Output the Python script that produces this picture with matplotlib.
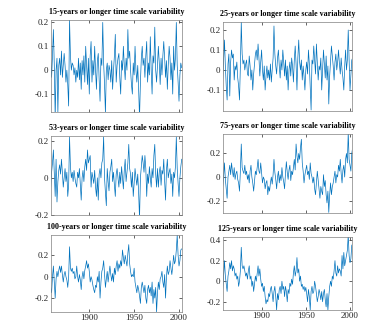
import matplotlib
matplotlib.use("Agg")
import matplotlib.pyplot as plt

plt.rcParams['font.family'] = ['Liberation Serif', 'DejaVu Serif']
plt.rcParams['axes.unicode_minus'] = False

years = list(range(1856, 2004))

titles = ["15-years or longer time scale variability",
          "25-years or longer time scale variability",
          "53-years or longer time scale variability",
          "75-years or longer time scale variability",
          "100-years or longer time scale variability",
          "125-years or longer time scale variability"]

s15 = [0.02, 0.05, -0.03, 0.06,
       0.17, 0.02, -0.20, 0.00, 0.05, -0.18, 0.02, 0.05, -0.02, 0.08,
       -0.03, 0.02, 0.07, 0.02, -0.05, 0.00, -0.06, -0.15, 0.21, 0.06,
       0.00, 0.03, 0.02, -0.02, 0.01, -0.05, 0.00, -0.03, 0.05, -0.04,
       0.03, -0.08, 0.04, -0.02, 0.06, -0.05, 0.10, 0.02, -0.06, 0.05,
       -0.10, 0.06, 0.12, -0.05, 0.04, -0.02, 0.10, 0.00, -0.08, 0.04,
       0.07, -0.04, -0.13, 0.05, 0.02, 0.20, 0.03, -0.06, -0.18, 0.00,
       0.03, -0.04, 0.02, 0.00, -0.05, 0.04, -0.08, 0.00, 0.06, 0.15,
       -0.05, 0.02, 0.05, 0.07, -0.03, -0.10, 0.04, 0.00, 0.10, 0.02,
       -0.04, 0.05, 0.00, 0.17, 0.05, 0.08, 0.00, -0.06, -0.10, 0.03,
       -0.02, 0.10, 0.00, -0.05, 0.02, -0.08, -0.20, -0.05, 0.05, 0.10,
       0.02, 0.05, -0.03, 0.06, 0.12, -0.05, 0.03, -0.02, 0.14, 0.00,
       -0.10, 0.06, 0.03, 0.18, 0.00, -0.05, 0.02, 0.10, 0.03, -0.06,
       0.05, -0.02, 0.06, 0.12, 0.05, -0.03, 0.04, -0.08, 0.02, 0.10,
       0.05, -0.04, 0.03, -0.10, 0.10, 0.00, 0.05, 0.20, 0.02, -0.05,
       -0.13, -0.02, 0.03, 0.01]

s25 = [-0.05, 0.05, 0.15, 0.02,
       -0.08, -0.15, 0.03, 0.08, -0.13, 0.04, 0.10, 0.06, 0.08, -0.05,
       0.02, 0.00, 0.04, -0.04, -0.08, -0.15, 0.02, 0.24, 0.08, 0.03,
       0.05, 0.00, 0.03, 0.05, -0.02, -0.03, 0.07, 0.02, -0.05, 0.00,
       -0.10, -0.02, 0.03, 0.08, 0.10, 0.05, 0.13, 0.06, -0.03, 0.04,
       0.10, 0.00, -0.05, 0.02, -0.10, -0.03, 0.02, -0.04, 0.00, -0.05,
       0.03, -0.06, 0.00, 0.06, 0.22, 0.08, 0.02, -0.02, 0.06, 0.10,
       0.02, -0.04, 0.05, 0.00, 0.10, 0.04, -0.03, 0.05, -0.05, 0.02,
       -0.10, 0.00, 0.04, -0.03, 0.06, 0.02, -0.06, 0.05, 0.12, 0.03,
       -0.10, 0.06, 0.15, 0.04, 0.00, 0.05, -0.05, 0.02, -0.03, -0.10,
       0.00, 0.04, -0.02, 0.10, 0.03, -0.08, -0.20, 0.05, 0.03, 0.12,
       0.05, -0.02, 0.13, 0.04, -0.05, 0.02, 0.00, 0.06, -0.10, 0.00,
       0.10, 0.03, -0.04, 0.07, -0.05, 0.02, -0.17, -0.03, 0.05, 0.12,
       0.07, 0.02, -0.05, 0.04, 0.08, 0.00, 0.04, 0.10, 0.03, -0.02,
       0.06, 0.00, -0.04, -0.10, 0.02, 0.10, 0.00, 0.05, 0.20, 0.04,
       -0.10, -0.02, 0.05, 0.06]

s53 = [-0.02, -0.05, 0.03, 0.08,
       0.15, 0.02, -0.10, 0.10, -0.13, -0.02, 0.04, 0.07, 0.02, 0.10,
       0.03, -0.05, 0.00, 0.05, -0.02, 0.03, -0.10, -0.04, 0.22, 0.06,
       0.00, 0.03, -0.02, 0.04, 0.00, -0.03, -0.05, 0.03, 0.00, 0.05,
       -0.04, -0.12, 0.00, 0.04, -0.02, 0.06, 0.10, 0.04, 0.15, 0.08,
       0.10, 0.12, -0.05, 0.03, 0.00, -0.03, 0.04, -0.05, -0.10, 0.00,
       -0.12, 0.02, 0.05, 0.00, 0.08, 0.10, 0.22, 0.00, -0.08, -0.15,
       0.05, -0.02, -0.07, 0.03, 0.06, 0.10, -0.02, 0.03, -0.04, -0.10,
       0.02, 0.05, 0.00, -0.05, 0.03, -0.03, 0.06, 0.00, -0.06, 0.04,
       0.10, -0.02, 0.03, 0.08, 0.18, 0.05, 0.02, -0.05, 0.03, -0.10,
       -0.03, 0.05, 0.00, -0.04, 0.02, -0.08, -0.22, 0.00, 0.06, 0.12,
       0.08, 0.03, 0.12, 0.05, -0.10, 0.02, -0.03, 0.06, 0.00, -0.05,
       0.05, 0.00, 0.12, 0.18, 0.02, -0.05, 0.05, -0.05, 0.03, 0.06,
       -0.04, 0.04, 0.02, 0.10, -0.02, -0.12, 0.04, 0.10, 0.00, 0.03,
       0.05, -0.03, 0.02, -0.10, 0.03, 0.00, 0.06, 0.22, 0.05, -0.03,
       -0.10, 0.00, 0.06, 0.10]

s75 = [-0.08, 0.00, 0.12, -0.02,
       -0.10, -0.18, 0.00, 0.05, 0.10, 0.02, 0.12, 0.05, 0.00, 0.08,
       -0.02, 0.03, 0.05, -0.02, -0.05, -0.12, 0.05, 0.28, 0.08, 0.05,
       0.03, 0.10, 0.02, 0.05, -0.02, 0.02, -0.05, 0.05, 0.10, 0.00,
       -0.05, -0.12, -0.03, 0.05, 0.02, 0.08, 0.15, 0.05, 0.03, 0.12,
       0.04, -0.05, 0.00, -0.02, -0.10, -0.05, -0.03, -0.15, -0.08, -0.12,
       -0.05, 0.00, -0.06, 0.02, 0.15, 0.04, -0.02, -0.10, 0.00, 0.05,
       -0.05, 0.02, -0.03, 0.08, 0.00, -0.04, -0.10, 0.03, 0.13, 0.04,
       -0.02, 0.06, 0.10, -0.03, 0.05, 0.02, 0.08, 0.15, 0.06, 0.28,
       0.18, 0.12, 0.20, 0.15, 0.25, 0.32, 0.12, 0.05, -0.05, 0.02,
       0.06, 0.10, 0.02, 0.05, -0.02, 0.12, 0.03, 0.00, -0.05, 0.00,
       -0.10, -0.15, -0.05, 0.05, -0.03, -0.10, -0.18, -0.08, -0.12, -0.15,
       0.02, -0.08, -0.03, -0.15, -0.22, -0.12, -0.30, -0.15, -0.05, -0.15,
       -0.08, -0.05, 0.00, 0.05, -0.05, 0.02, 0.00, 0.10, 0.05, 0.15,
       0.03, -0.05, 0.06, 0.10, 0.00, 0.15, 0.20, 0.12, 0.38, 0.15,
       0.10, 0.05, 0.20, 0.25]

s100 = [-0.08, -0.10, -0.15, 0.00,
        0.10, -0.05, -0.20, -0.02, 0.05, 0.00, 0.06, 0.10, 0.04, 0.10,
        0.02, -0.05, 0.02, 0.05, 0.00, -0.03, -0.10, 0.00, 0.28, 0.08,
        0.05, 0.08, 0.03, 0.05, -0.02, 0.00, 0.10, 0.00, -0.05, 0.02,
        -0.03, -0.12, 0.00, 0.05, -0.02, 0.06, 0.10, 0.15, 0.08, 0.12,
        0.05, -0.05, 0.00, -0.03, -0.08, -0.12, -0.15, -0.08, -0.10, 0.00,
        -0.05, 0.05, -0.20, -0.05, 0.05, 0.08, 0.15, 0.02, -0.10, -0.02,
        0.05, -0.05, 0.03, 0.10, 0.02, -0.04, 0.03, -0.05, 0.08, 0.02,
        0.10, 0.15, 0.05, 0.12, 0.08, 0.15, 0.10, 0.25, 0.18, 0.12,
        0.20, 0.15, 0.10, 0.22, 0.30, 0.12, 0.05, 0.00, 0.02, 0.00,
        0.08, -0.05, -0.10, -0.15, -0.08, -0.12, -0.18, -0.25, -0.10, -0.05,
        -0.10, -0.15, -0.08, -0.20, -0.25, -0.12, -0.08, -0.15, -0.10, -0.18,
        -0.05, -0.25, -0.12, -0.20, -0.10, -0.33, -0.15, -0.05, -0.12, -0.02,
        0.00, 0.05, -0.05, -0.10, 0.02, -0.20, 0.00, 0.10, 0.02, 0.05,
        0.15, 0.08, 0.02, 0.10, 0.20, 0.12, 0.15, 0.25, 0.39, 0.20,
        0.10, 0.15, 0.25, 0.26]

s125 = [-0.08, 0.05, 0.20, 0.05,
        -0.03, -0.10, 0.05, 0.10, 0.18, 0.12, 0.20, 0.10, 0.15, 0.12,
        0.05, 0.08, 0.02, 0.05, -0.05, 0.00, 0.10, 0.33, 0.15, 0.12,
        0.15, 0.10, 0.05, 0.08, 0.02, 0.10, 0.15, 0.02, 0.05, -0.05,
        0.00, -0.10, -0.02, 0.05, 0.00, 0.08, 0.15, 0.05, 0.12, 0.02,
        -0.05, -0.02, -0.10, -0.05, -0.15, -0.22, -0.18, -0.20, -0.12, -0.15,
        -0.08, -0.05, -0.12, -0.20, -0.10, -0.05, -0.15, -0.28, -0.12, -0.18,
        -0.08, -0.05, -0.12, 0.00, -0.08, -0.05, -0.15, -0.05, -0.10, -0.20,
        -0.08, -0.12, -0.02, -0.05, 0.02, -0.03, 0.08, 0.15, 0.05, 0.10,
        0.23, 0.08, 0.12, 0.00, 0.05, -0.05, -0.03, -0.08, -0.05, -0.10,
        -0.06, -0.12, -0.20, -0.08, -0.15, -0.28, -0.10, -0.05, -0.12, -0.10,
        0.00, -0.05, -0.12, -0.20, -0.15, -0.08, -0.12, -0.18, -0.10, -0.20,
        -0.12, -0.08, -0.18, -0.25, -0.12, -0.28, -0.15, -0.05, 0.00, -0.05,
        0.05, 0.02, 0.10, 0.20, 0.08, 0.05, 0.15, 0.08, 0.12, 0.10,
        0.05, 0.25, 0.12, 0.28, 0.15, 0.20, 0.25, 0.30, 0.45, 0.25,
        0.18, 0.22, 0.35, 0.36]

series = [s15, s25, s53, s75, s100, s125]
ylims = [(-0.175, 0.21), (-0.205, 0.24), (-0.2, 0.225),
         (-0.305, 0.365), (-0.33, 0.39), (-0.28, 0.43)]
yticks = [[-0.1, 0, 0.1, 0.2], [-0.1, 0, 0.1, 0.2], [-0.2, 0, 0.2],
          [-0.2, 0, 0.2], [-0.2, 0, 0.2], [-0.2, 0, 0.2, 0.4]]
xticks = [1900, 1950, 2000]

W, H = 390, 332
# axes boxes in pixels: (left, top, right, bottom)
boxes = [(50.7, 20, 181.7, 112), (222.7, 22, 352.3, 111),
         (50.7, 136, 181.7, 215), (222.7, 134, 352.3, 213),
         (50.7, 235, 181.7, 312), (222.7, 237, 352.3, 310)]
xlims = [(1857, 2003), (1856, 2002.6)]

fig = plt.figure(figsize=(W / 100, H / 100), dpi=100)
for i, (vals, box) in enumerate(zip(series, boxes)):
    l, t, r, b = box
    ax = fig.add_axes([l / W, 1 - b / H, (r - l) / W, (b - t) / H])
    ax.plot(years[:len(vals)], vals, color='#0072BD', lw=0.5)
    ax.set_xlim(*xlims[i % 2])
    ax.set_ylim(*ylims[i])
    ax.set_xticks(xticks)
    ax.set_yticks(yticks[i])
    ax.set_yticklabels(['%g' % v for v in yticks[i]])
    if i < 4:
        ax.set_xticklabels([])
    ax.tick_params(direction='in', length=2, width=0.5, top=True, right=True,
                   labelsize=6.5, colors='#262626', pad=1.5)
    for sp in ax.spines.values():
        sp.set_linewidth(0.5)
        sp.set_color('#808080')
    ax.set_title(titles[i], fontsize=5.8, fontweight='bold', pad=4)

fig.savefig('out.png', dpi=100)
